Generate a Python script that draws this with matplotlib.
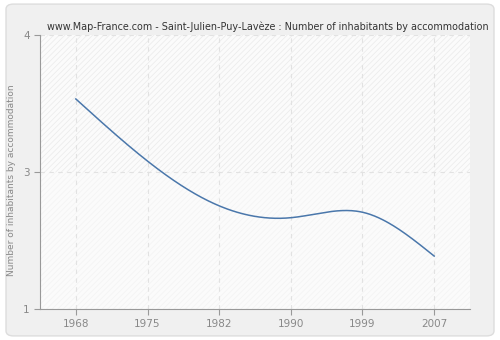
"""
Saint-Julien-Puy-Lavèze: number of inhabitants by accommodation.
Smoothed line chart in the Map-France style.
"""

import numpy as np
import matplotlib
matplotlib.use("Agg")
import matplotlib.pyplot as plt
from matplotlib.patches import FancyBboxPatch

years = [1968, 1975, 1982, 1990, 1999, 2007]
inhabitants = [3.30, 2.62, 2.13, 2.00, 2.06, 1.58]

y_ticks = [1, 2.5, 4]
y_tick_labels = ["1", "3", "4"]

TITLE = "www.Map-France.com - Saint-Julien-Puy-Lavèze : Number of inhabitants by accommodation"
YLABEL = "Number of inhabitants by accommodation"


def natural_spline(x, y, xs):
    # plain natural cubic spline, just for drawing a smooth curve
    x = np.asarray(x, float)
    y = np.asarray(y, float)
    n = len(x)
    h = np.diff(x)
    A = np.zeros((n, n))
    b = np.zeros(n)
    A[0, 0] = A[-1, -1] = 1
    for i in range(1, n - 1):
        A[i, i - 1] = h[i - 1]
        A[i, i] = 2 * (h[i - 1] + h[i])
        A[i, i + 1] = h[i]
        b[i] = 3 * ((y[i + 1] - y[i]) / h[i] - (y[i] - y[i - 1]) / h[i - 1])
    c = np.linalg.solve(A, b)
    out = np.empty_like(xs)
    for k, xv in enumerate(xs):
        i = min(np.searchsorted(x, xv, side="right") - 1, n - 2)
        i = max(i, 0)
        dx = xv - x[i]
        bi = (y[i + 1] - y[i]) / h[i] - h[i] * (2 * c[i] + c[i + 1]) / 3
        di = (c[i + 1] - c[i]) / (3 * h[i])
        out[k] = y[i] + bi * dx + c[i] * dx ** 2 + di * dx ** 3
    return out


plt.rcParams["hatch.linewidth"] = 0.5

fig = plt.figure(figsize=(5, 3.4), dpi=100)
fig.patch.set_facecolor("white")
frame = FancyBboxPatch((0.012, 0.012), 0.976, 0.976, transform=fig.transFigure,
                       boxstyle="round,pad=0,rounding_size=0.015",
                       facecolor="#f0f0f0", edgecolor="#dddddd", linewidth=1, zorder=-10)
fig.patches.append(frame)

ax = fig.add_axes([0.08, 0.091, 0.86, 0.806])
ax.set_facecolor("#fbfbfb")
ax.axhspan(2.5, 4, facecolor="none", edgecolor="#eaeaea", hatch="//////", linewidth=0, zorder=0)
ax.axhspan(1, 2.5, facecolor="none", edgecolor="#f3f3f3", hatch="//////", linewidth=0, zorder=0)

# years sit at evenly spaced positions, like categories
pos = np.arange(len(years))
xs = np.linspace(0, len(years) - 1, 400)
ax.plot(xs, natural_spline(pos, inhabitants, xs), color="#4a77ab", linewidth=1.1, zorder=3)

ax.set_xlim(-0.5, len(years) - 0.5)
ax.set_ylim(1, 4)
ax.set_xticks(pos)
ax.set_xticklabels([str(y) for y in years])
ax.set_yticks(y_ticks)
ax.set_yticklabels(y_tick_labels)
ax.grid(True, color="#e2e2e2", linestyle=(0, (4, 4)), linewidth=0.8)
ax.set_axisbelow(True)

for side in ("top", "right"):
    ax.spines[side].set_visible(False)
for side in ("left", "bottom"):
    ax.spines[side].set_color("#999999")
ax.tick_params(colors="#999999", labelcolor="#888888", labelsize=7.5, length=4, width=0.8)

ax.set_ylabel(YLABEL, color="#888888", fontsize=6.5)
ax.yaxis.set_label_coords(-0.055, 0.47)
fig.text(0.535, 0.905, TITLE, ha="center", va="bottom", fontsize=6.9, color="#333333")

fig.savefig("out.png", dpi=100)
